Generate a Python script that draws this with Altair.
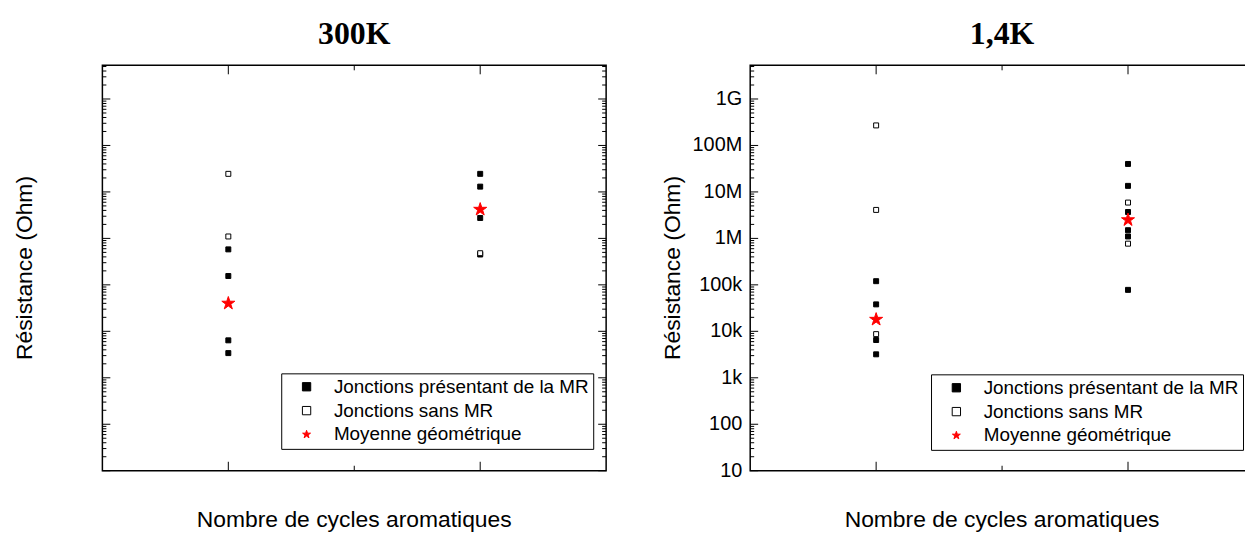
import altair as alt
import pandas as pd

# ---------------- data ----------------
TYPES = ["Jonctions présentant de la MR", "Jonctions sans MR", "Moyenne géométrique"]
PANEL_TITLES = ["300K", "1,4K"]
X_TITLE = "Nombre de cycles aromatiques"
Y_TITLE = "Résistance (Ohm)"

# 300 K
P1_MR_2 = [5.8e5, 1.55e5, 6.4e3, 3.4e3]
P1_SANS_2 = [2.45e7, 1.1e6]
P1_MOY_2 = [4.0e4]
P1_MR_3 = [2.45e7, 1.3e7, 2.75e6, 4.5e5]
P1_SANS_3 = [4.8e5]
P1_MOY_3 = [4.2e6]

# 1,4 K
P2_MR_2 = [1.2e5, 3.8e4, 6.5e3, 3.2e3]
P2_SANS_2 = [2.7e8, 4.1e6, 8.7e3]
P2_MOY_2 = [1.8e4]
P2_MR_3 = [4.0e7, 1.35e7, 3.7e6, 1.5e6, 1.1e6, 7.8e4]
P2_SANS_3 = [5.9e6, 7.7e5]
P2_MOY_3 = [2.5e6]

Y_TICKS = [10, 100, 1000, 10000, 100000, 1000000, 10000000, 100000000, 1000000000]
Y_LABELS = ["10", "100", "1k", "10k", "100k", "1M", "10M", "100M", "1G"]
MINOR_MULT = [2, 3, 4, 5, 6, 7, 8, 9]
X_TICKS = [2, 3]
X_MINOR = [2.5]
Y_DOMAIN = [10, 5300000000]

# layout of the two panels on one shared x scale
PANEL_SHIFT = 2.572          # x offset (axis units) of the right panel
X_DOMAIN = [1.5, 6.0365]
PANEL_EDGES = [1.5, 3.5]
W = 1150
H = 408
FONT = "Liberation Sans"
SYM_SIZE = {TYPES[0]: 25, TYPES[1]: 25, TYPES[2]: 190}

# five-pointed star as a custom symbol path (unit box -1..1)
STAR_PATH = ("M0,-1L0.225,-0.309L0.951,-0.309L0.363,0.118L0.588,0.809L0,0.382"
             "L-0.588,0.809L-0.363,0.118L-0.951,-0.309L-0.225,-0.309Z")

MINOR_Y = [m * d for d in Y_TICKS for m in MINOR_MULT if m * d <= Y_DOMAIN[1]]
SHIFTS = [0.0, PANEL_SHIFT]


def build_df(groups, shift):
    rows = []
    for tname, cyc, vals in groups:
        for v in vals:
            rows.append({"xpos": cyc + shift, "R": v, "kind": tname,
                         "ord": TYPES.index(tname), "sz": SYM_SIZE[tname]})
    df = pd.DataFrame(rows)
    return df.sort_values("ord", kind="stable").reset_index(drop=True)


df1 = build_df([(TYPES[0], 2, P1_MR_2), (TYPES[1], 2, P1_SANS_2), (TYPES[2], 2, P1_MOY_2),
                (TYPES[0], 3, P1_MR_3), (TYPES[1], 3, P1_SANS_3), (TYPES[2], 3, P1_MOY_3)], SHIFTS[0])
df2 = build_df([(TYPES[0], 2, P2_MR_2), (TYPES[1], 2, P2_SANS_2), (TYPES[2], 2, P2_MOY_2),
                (TYPES[0], 3, P2_MR_3), (TYPES[1], 3, P2_SANS_3), (TYPES[2], 3, P2_MOY_3)], SHIFTS[1])

xs = alt.Scale(domain=X_DOMAIN, nice=False, zero=False)
ys = alt.Scale(type="log", domain=Y_DOMAIN, nice=False)

x_tick_vals = [t + s for s in SHIFTS for t in X_TICKS]
x_label_expr = "'' + round(datum.value > 4 ? datum.value - %s : datum.value)" % PANEL_SHIFT


def make_legend(lx, ly):
    return alt.Legend(title=None, orient="none", legendX=lx, legendY=ly,
                      strokeColor="black", fillColor="white", padding=4,
                      labelFont=FONT, labelFontSize=19, labelColor="black",
                      labelLimit=500, rowPadding=4, symbolOffset=12,
                      labelOffset=18, symbolStrokeWidth=1, symbolSize=70)


def points(df, legend, with_axes):
    if with_axes:
        xa = alt.Axis(values=x_tick_vals, labelExpr=x_label_expr, ticks=False,
                      domain=False, grid=False, labelFont=FONT, labelFontSize=20,
                      labelColor="black", labelPadding=13, title=None)
        ya = alt.Axis(values=Y_TICKS, format="~s", ticks=False, domain=False,
                      grid=False, labelFont=FONT, labelFontSize=20,
                      labelColor="black", labelPadding=8, title=None)
    else:
        xa = None
        ya = None
    return alt.Chart(df).mark_point(opacity=1, strokeWidth=1).encode(
        x=alt.X("xpos:Q", scale=xs, axis=xa),
        y=alt.Y("R:Q", scale=ys, axis=ya),
        shape=alt.Shape("kind:N", scale=alt.Scale(domain=TYPES, range=["square", "square", STAR_PATH]), legend=legend),
        fill=alt.Fill("kind:N", scale=alt.Scale(domain=TYPES, range=["black", "white", "red"]), legend=legend),
        stroke=alt.Stroke("kind:N", scale=alt.Scale(domain=TYPES, range=["black", "black", "red"]), legend=legend),
        size=alt.Size("sz:Q", scale=None, legend=None),
    )


# panel frames
frames = alt.Chart(pd.DataFrame({
    "x0": [PANEL_EDGES[0] + s for s in SHIFTS],
    "x1": [PANEL_EDGES[1] + s for s in SHIFTS],
})).mark_rect(fillOpacity=0, stroke="black", strokeWidth=1.5).encode(
    x=alt.X("x0:Q", scale=xs, axis=None), x2=alt.X2("x1"),
    y=alt.value(0), y2=alt.value(H))


def ytick_layer(values, edge_index, length):
    rows = [{"v": v, "e": PANEL_EDGES[edge_index] + s} for s in SHIFTS for v in values]
    return alt.Chart(pd.DataFrame(rows)).mark_rule(
        color="black", strokeWidth=1, x2Offset=length).encode(
        y=alt.Y("v:Q", scale=ys, axis=None),
        x=alt.X("e:Q", scale=xs, axis=None), x2=alt.X2("e"))


def xtick_layer(values, y0, y1):
    rows = [{"c": t + s} for s in SHIFTS for t in values]
    return alt.Chart(pd.DataFrame(rows)).mark_rule(color="black", strokeWidth=1).encode(
        x=alt.X("c:Q", scale=xs, axis=None), y=alt.value(y0), y2=alt.value(y1))


# right-panel y tick labels (the left panel uses the native axis)
right_labels = alt.Chart(pd.DataFrame({"v": Y_TICKS, "lab": Y_LABELS})).mark_text(
    font=FONT, fontSize=20, align="right", baseline="middle", color="black").encode(
    y=alt.Y("v:Q", scale=ys, axis=None), x=alt.value(644), text="lab:N")


def center_text(texts, y, size, font, weight):
    df = pd.DataFrame({"c": [2.5 + s for s in SHIFTS], "t": texts})
    return alt.Chart(df).mark_text(font=font, fontSize=size, fontWeight=weight,
                                   align="center", baseline="middle",
                                   color="black").encode(
        x=alt.X("c:Q", scale=xs, axis=None), y=alt.value(y), text="t:N")


def ytitle(xpix):
    return alt.Chart(pd.DataFrame({"t": [Y_TITLE]})).mark_text(
        font=FONT, fontSize=23, angle=270, align="center", baseline="middle",
        color="black").encode(x=alt.value(xpix), y=alt.value(H / 2), text="t:N")


layers = [
    frames,
    points(df1, make_legend(180, 310), True),
    points(df2, make_legend(834, 311), False),
    ytick_layer(Y_TICKS, 0, 8), ytick_layer(Y_TICKS, 1, -8),
    ytick_layer(MINOR_Y, 0, 4), ytick_layer(MINOR_Y, 1, -4),
    xtick_layer(X_TICKS, H, H - 9), xtick_layer(X_TICKS, 0, 9),
    xtick_layer(X_MINOR, H, H - 5), xtick_layer(X_MINOR, 0, 5),
    right_labels,
    center_text(PANEL_TITLES, -31, 32, "Liberation Serif", "bold"),
    center_text([X_TITLE, X_TITLE], H + 50, 23, FONT, "normal"),
    ytitle(-78), ytitle(574),
]

chart = alt.layer(*layers).resolve_scale(
    shape="independent", fill="independent", stroke="independent"
).properties(
    width=W, height=H,
    autosize=alt.AutoSizeParams(type="none"),
    padding={"left": 95, "top": 56, "right": 0, "bottom": 66},
).configure_view(strokeWidth=0)

chart.save("out.html", embed_options={"renderer": "svg", "actions": False})
